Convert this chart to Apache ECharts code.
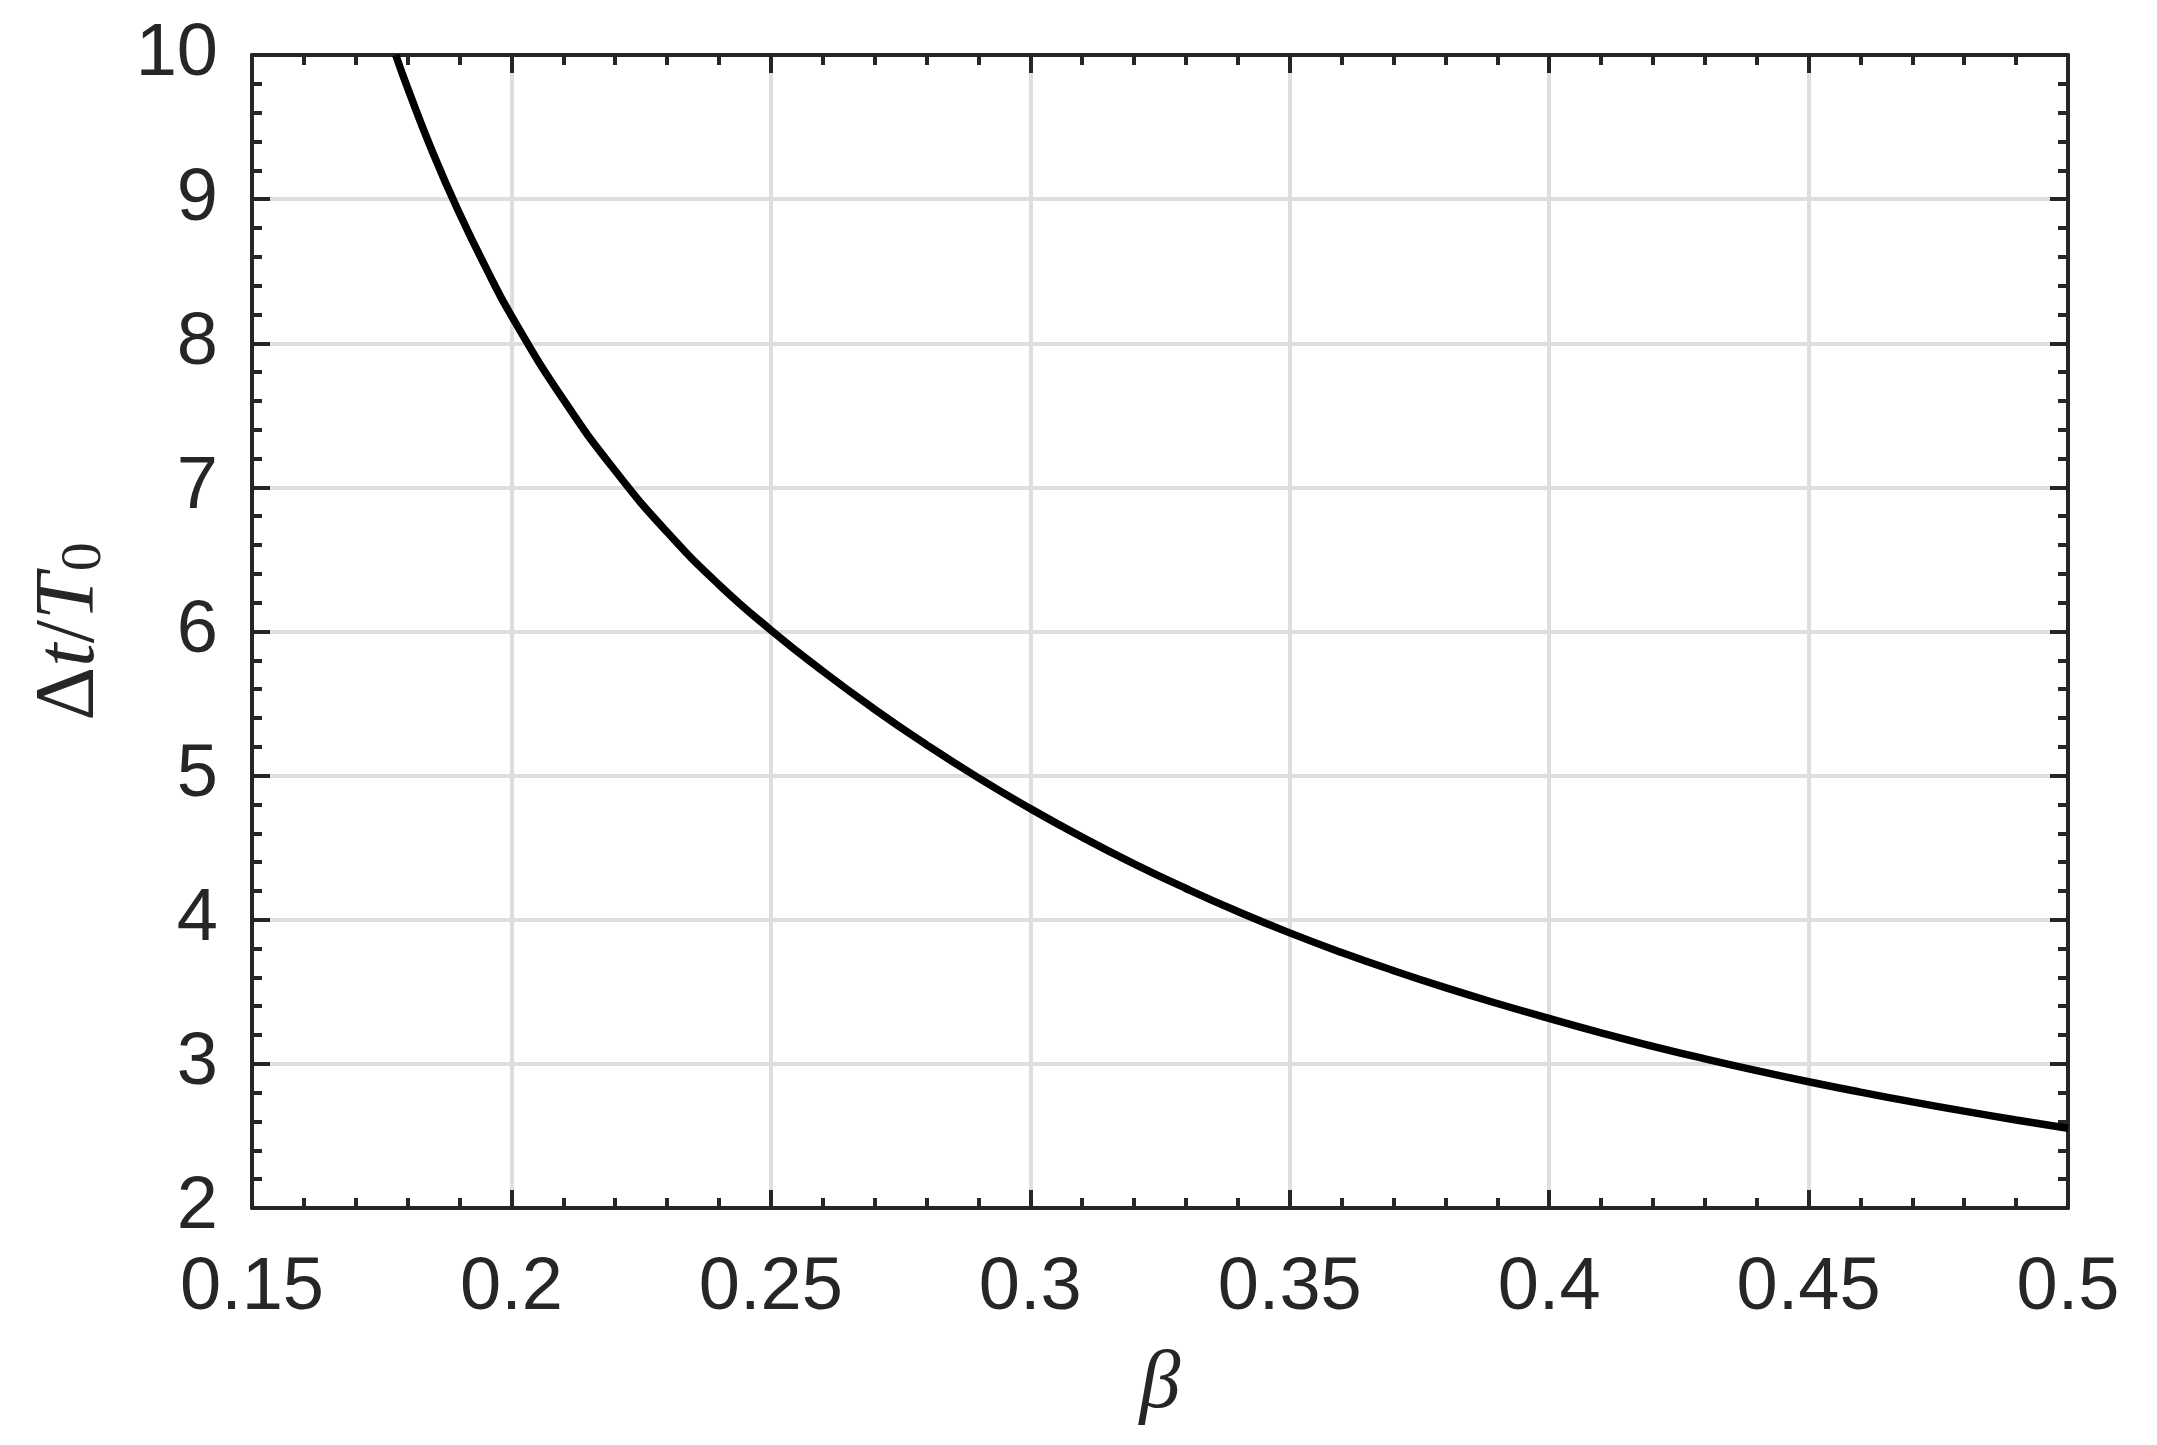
<!DOCTYPE html>
<html>
<head>
<meta charset="utf-8">
<script src="https://cdn.jsdelivr.net/npm/echarts@6/dist/echarts.min.js"></script>
<style>
    html, body { margin: 0; padding: 0; background: #fff; }
    #chart { width: 2157px; height: 1445px; }
</style>
</head>
<body>
<div id="chart"></div>
<script>
    // β values
    var betaValues = [0.1777, 0.18, 0.185, 0.19, 0.195, 0.2, 0.21, 0.22, 0.23, 0.24, 0.25,
        0.26, 0.27, 0.28, 0.29, 0.3, 0.31, 0.32, 0.33, 0.34, 0.35,
        0.36, 0.37, 0.38, 0.39, 0.4, 0.41, 0.42, 0.43, 0.44, 0.45,
        0.46, 0.47, 0.48, 0.49, 0.5];
    // Δt/T0 at each β
    var dtValues = [10.0, 9.77, 9.31, 8.90, 8.53, 8.19, 7.61, 7.115, 6.69, 6.325, 6.01,
        5.725, 5.46, 5.214, 4.984, 4.771, 4.573, 4.388, 4.217, 4.057, 3.909,
        3.773, 3.647, 3.529, 3.419, 3.315, 3.215, 3.122, 3.035, 2.953, 2.876,
        2.804, 2.736, 2.672, 2.611, 2.553];
    var xTicks = {min: 0.15, max: 0.5, interval: 0.05};
    var yTicks = {min: 2, max: 10, interval: 1};

    var curve = [];
    for (var i = 0; i < betaValues.length; i++) {
        curve.push([betaValues[i], dtValues[i]]);
    }

    var axisColor = '#262626';
    var labelFont = {fontFamily: 'Liberation Sans', fontSize: 74, color: axisColor};

    // common look of the box axes: ticks inside, minor ticks
    function boxAxis(opts, withLabels, grid, margin) {
        return Object.assign({
            type: 'value',
            axisLine: {show: true, onZero: false, lineStyle: {color: axisColor, width: 4}},
            axisTick: {show: true, inside: true, length: 18, lineStyle: {color: axisColor, width: 4}},
            minorTick: {show: true, splitNumber: 5, length: 10, lineStyle: {color: axisColor, width: 4}},
            axisLabel: withLabels ? Object.assign({show: true, margin: margin, showMinLabel: true, showMaxLabel: true}, labelFont)
                                  : {show: false},
            splitLine: {show: grid, lineStyle: {color: '#dedede', width: 4}},
            minorSplitLine: {show: false}
        }, opts);
    }

    var chart = echarts.init(document.getElementById('chart'), null, {renderer: 'canvas'});
    chart.setOption({
        animation: false,
        backgroundColor: '#ffffff',
        grid: {left: 252, top: 55, width: 1816, height: 1153, containLabel: false},
        xAxis: [
            boxAxis({
                position: 'bottom', min: xTicks.min, max: xTicks.max, interval: xTicks.interval,
                name: 'β', nameLocation: 'middle', nameGap: 136,
                nameTextStyle: {fontFamily: 'Liberation Serif', fontStyle: 'italic', fontSize: 82, color: axisColor}
            }, true, true, 44),
            boxAxis({position: 'top', min: xTicks.min, max: xTicks.max, interval: xTicks.interval}, false, false)
        ],
        yAxis: [
            boxAxis({
                position: 'left', min: yTicks.min, max: yTicks.max, interval: yTicks.interval,
                name: '{d|Δ}{i|t}{d|/}{i|T}{s|0}', nameLocation: 'middle', nameGap: 138, nameRotate: 90,
                nameTextStyle: {
                    color: axisColor,
                    rich: {
                        d: {fontFamily: 'Liberation Serif', fontSize: 84, color: axisColor},
                        i: {fontFamily: 'Liberation Serif', fontStyle: 'italic', fontSize: 84, color: axisColor},
                        s: {fontFamily: 'Liberation Serif', fontSize: 58, color: axisColor, verticalAlign: 'bottom', padding: [28, 0, 0, 2]}
                    }
                }
            }, true, true, 34),
            boxAxis({position: 'right', min: yTicks.min, max: yTicks.max, interval: yTicks.interval}, false, false)
        ],
        series: [{
            type: 'line',
            data: curve,
            smooth: true,
            showSymbol: false,
            clip: true,
            lineStyle: {color: '#000000', width: 7.5},
            z: 3
        }]
    });
</script>
</body>
</html>
